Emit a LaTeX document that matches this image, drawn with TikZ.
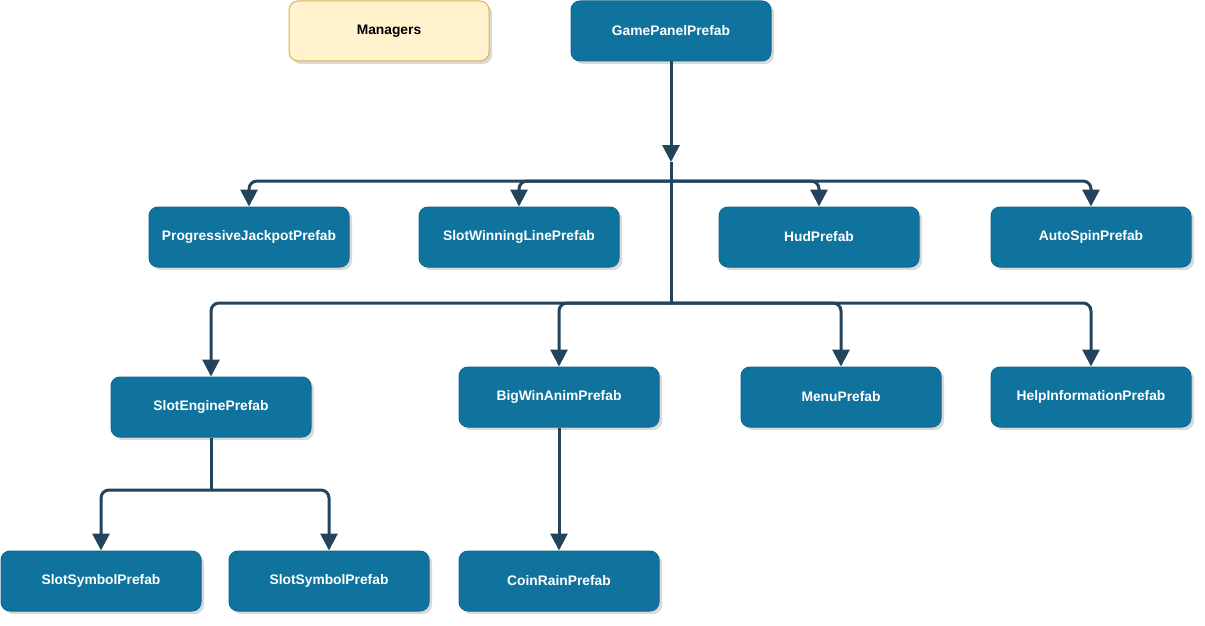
\documentclass[tikz,border=0pt]{standalone}
\usepackage{fontspec}
\setmainfont{Liberation Sans}
\usetikzlibrary{arrows.meta,shadows}
\definecolor{prefabblue}{HTML}{10739E}
\definecolor{prefabedge}{HTML}{0E6A92}
\definecolor{linkcol}{HTML}{23445D}
\definecolor{mgrfill}{HTML}{FFF2CC}
\definecolor{mgredge}{HTML}{D6B656}
\tikzset{
  prefab/.style={draw=prefabedge, fill=prefabblue, text=white, rounded corners=9pt,
    minimum width=200pt, minimum height=60pt, line width=1pt,
    font=\fontsize{13.8}{16}\selectfont\bfseries,
    drop shadow={opacity=0.3, shadow xshift=3pt, shadow yshift=-3pt}},
  manager/.style={prefab, draw=mgredge, fill=mgrfill, text=black},
  link/.style={draw=linkcol, line width=3pt, rounded corners=8pt},
  tip/.style={-{Triangle[width=17pt,length=17pt]}}
}
\begin{document}
\begin{tikzpicture}[x=1pt,y=-1pt]
  \useasboundingbox (0,0) rectangle (1205,626);
  % top row
  \node[manager] (managers) at (389,31) {Managers};
  \node[prefab] (game) at (671,31) {GamePanelPrefab};
  % second row
  \node[prefab] (jackpot) at (249,237) {ProgressiveJackpotPrefab};
  \node[prefab] (winline) at (519,237) {SlotWinningLinePrefab};
  \node[prefab] (hud) at (819,237) {HudPrefab};
  \node[prefab] (autospin) at (1091,237) {AutoSpinPrefab};
  % third row
  \node[prefab] (engine) at (211,407) {SlotEnginePrefab};
  \node[prefab] (bigwin) at (559,397) {BigWinAnimPrefab};
  \node[prefab] (menu) at (841,397) {MenuPrefab};
  \node[prefab] (help) at (1091,397) {HelpInformationPrefab};
  % bottom row
  \node[prefab] (symbolA) at (101,581) {SlotSymbolPrefab};
  \node[prefab] (symbolB) at (329,581) {SlotSymbolPrefab};
  \node[prefab] (coinrain) at (559,581) {CoinRainPrefab};
  % junctions
  \coordinate (hub) at (671,162);
  \coordinate (busA) at (671,181);
  \coordinate (busB) at (671,303);
  \coordinate (busC) at (211,490);
  % connectors
  \draw[link,tip] (game.south) -- (hub);
  \draw[link] (hub) -- (busB);
  \foreach \child in {jackpot,winline,hud,autospin}
    \draw[link,tip] (busA) -| (\child.north);
  \foreach \child in {engine,bigwin,menu,help}
    \draw[link,tip] (busB) -| (\child.north);
  \draw[link] (engine.south) -- (busC);
  \foreach \child in {symbolA,symbolB}
    \draw[link,tip] (busC) -| (\child.north);
  \draw[link,tip] (bigwin.south) -- (coinrain.north);
\end{tikzpicture}
\end{document}
